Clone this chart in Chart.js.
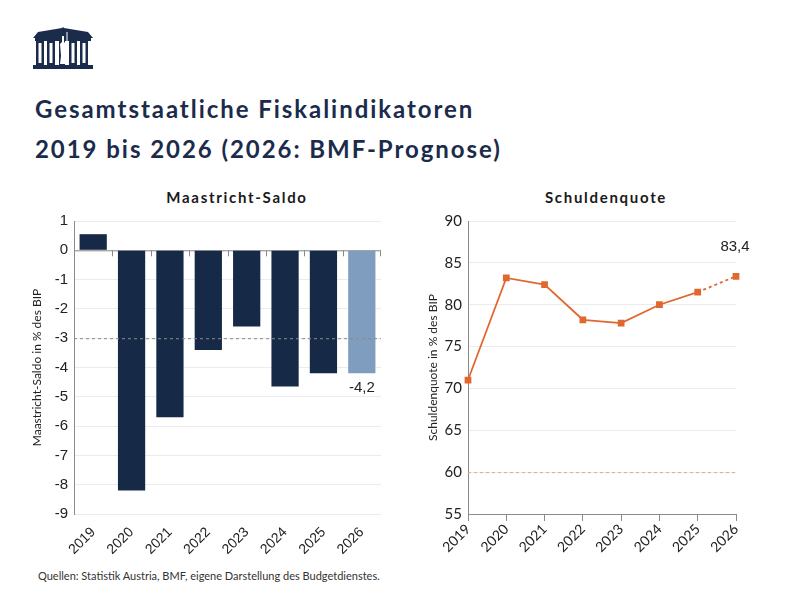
<!DOCTYPE html>
<html>
<head>
<meta charset="utf-8">
<script src="https://cdn.jsdelivr.net/npm/chart.js@4"></script>
<style>
  body { margin: 0; width: 800px; height: 600px; background: #fff; position: relative; overflow: hidden; font-family: Lato, sans-serif; }
  .logo { position: absolute; left: 33px; top: 27px; }
  .title { position: absolute; left: 35px; color: #1b2b4b; font: bold 24px Lato, sans-serif; letter-spacing: 1.95px; white-space: nowrap; }
  .sub { position: absolute; top: 188px; color: #1a1a1a; font: bold 15px Lato, sans-serif; letter-spacing: 1.7px; transform: translateX(-50%); white-space: nowrap; }
  .foot { position: absolute; left: 38px; top: 569px; font: 11px Lato, sans-serif; color: #333; }
  canvas { position: absolute; top: 205px; }
</style>
</head>
<body>
<svg class="logo" width="60" height="42" viewBox="0 0 60 42">
  <polygon points="0,11 5,5 29,1 30,0 31,1 55,5 60,11" fill="#1b2b4b"/>
  <rect x="2" y="11" width="56" height="3" fill="#1b2b4b"/>
  <rect x="3" y="14" width="8" height="24" fill="#1b2b4b"/>
  <rect x="14" y="14" width="8" height="24" fill="#1b2b4b"/>
  <rect x="36" y="14" width="8" height="24" fill="#1b2b4b"/>
  <rect x="47" y="14" width="8" height="24" fill="#1b2b4b"/>
  <rect x="26" y="14" width="6" height="24" fill="#1b2b4b"/>
  <rect x="5.5" y="16" width="3" height="20" fill="#fff"/>
  <rect x="16.5" y="16" width="3" height="20" fill="#fff"/>
  <rect x="38.5" y="16" width="3" height="20" fill="#fff"/>
  <rect x="49.5" y="16" width="3" height="20" fill="#fff"/>
  <path d="M29,9 L31,9 L31,15 L33,17 L32,29 L33,37 L27,37 L28,29 L27,17 L29,15 Z" fill="#fff"/>
  <rect x="33.5" y="5" width="1" height="14" fill="#fff"/>
  <rect x="0" y="38" width="60" height="4" fill="#1b2b4b"/>
</svg>
<div class="title" style="top:94px">Gesamtstaatliche Fiskalindikatoren</div>
<div class="title" style="top:134px">2019 bis 2026 (2026: BMF-Prognose)</div>
<div class="sub" style="left:237px">Maastricht-Saldo</div>
<div class="sub" style="left:606px">Schuldenquote</div>
<canvas id="saldo" width="400" height="355" style="left:0"></canvas>
<canvas id="quote" width="400" height="355" style="left:400px"></canvas>
<div class="foot">Quellen: Statistik Austria, BMF, eigene Darstellung des Budgetdienstes.</div>
<script>
const years = ['2019', '2020', '2021', '2022', '2023', '2024', '2025', '2026'];
const saldo = [0.55, -8.2, -5.7, -3.4, -2.6, -4.65, -4.2, -4.2];
const quote = [71.0, 83.2, 82.4, 78.2, 77.8, 80.0, 81.5, 83.4];
const saldoLabel = '-4,2';
const quoteLabel = '83,4';
const maastrichtLimit = -3;
const debtLimit = 60;

const navy = '#162a47';
const lightBlue = '#7f9dbe';
const orange = '#e0682f';
const gridColor = '#ebebeb';
const axisColor = '#8a8a8a';

// Nulllinie mit Teilstrichen zwischen den Kategorien
const zeroLine = {
    id: 'zeroLine',
    beforeDatasetsDraw(chart) {
        const { ctx, chartArea, scales } = chart;
        const y = scales.y.getPixelForValue(0);
        const x = scales.x;
        ctx.save();
        ctx.strokeStyle = axisColor;
        ctx.lineWidth = 1;
        ctx.beginPath();
        ctx.moveTo(chartArea.left, y + 0.5);
        ctx.lineTo(chartArea.right, y + 0.5);
        for (let i = 1; i <= years.length; i++) {
            const px = Math.round((x.getPixelForValue(i - 1) + x.getPixelForValue(i)) / 2) + 0.5;
            const bx = i === years.length ? chartArea.right - 0.5 : px;
            ctx.moveTo(bx, y);
            ctx.lineTo(bx, y + 6);
        }
        ctx.stroke();
        ctx.restore();
    }
};

// Maastricht-Grenze und Beschriftung unter dem letzten Balken
const saldoExtras = {
    id: 'saldoExtras',
    afterDatasetsDraw(chart) {
        const { ctx, chartArea, scales } = chart;
        const y = scales.y.getPixelForValue(maastrichtLimit);
        ctx.save();
        ctx.strokeStyle = axisColor;
        ctx.setLineDash([3, 3]);
        ctx.beginPath();
        ctx.moveTo(chartArea.left, y + 0.5);
        ctx.lineTo(chartArea.right, y + 0.5);
        ctx.stroke();
        ctx.setLineDash([]);
        const el = chart.getDatasetMeta(0).data[years.length - 1];
        ctx.fillStyle = '#222';
        ctx.font = '15px "Liberation Sans", Arial, sans-serif';
        ctx.textAlign = 'center';
        ctx.textBaseline = 'middle';
        ctx.fillText(saldoLabel, el.x, el.y + 14);
        ctx.restore();
    }
};

new Chart(document.getElementById('saldo'), {
    type: 'bar',
    data: {
        labels: years,
        datasets: [{
            data: saldo,
            backgroundColor: years.map((y, i) => i === years.length - 1 ? lightBlue : navy),
            categoryPercentage: 1,
            barPercentage: 0.71
        }]
    },
    options: {
        responsive: false,
        animation: false,
        layout: { padding: { top: 16, right: 19, left: 30, bottom: 0 } },
        plugins: { legend: { display: false }, tooltip: { enabled: false } },
        scales: {
            x: {
                grid: { display: false },
                border: { display: false },
                ticks: {
                    minRotation: 45, maxRotation: 45, padding: 2,
                    color: '#222', font: { family: '"Liberation Sans", Arial, sans-serif', size: 14 }
                },
                afterFit: s => { s.height = 46; }
            },
            y: {
                min: -9, max: 1,
                ticks: {
                    stepSize: 1, padding: 6, color: '#222',
                    font: { family: '"Liberation Sans", Arial, sans-serif', size: 15 }
                },
                grid: { color: gridColor, drawTicks: false },
                border: { color: axisColor },
                title: {
                    display: true, text: 'Maastricht-Saldo in % des BIP', color: '#222',
                    font: { family: 'Lato', size: 12 }, padding: 0
                },
                afterFit: s => { s.width = 44; }
            }
        }
    },
    plugins: [zeroLine, saldoExtras]
});

new Chart(document.getElementById('quote'), {
    type: 'line',
    data: {
        labels: years,
        datasets: [{
            data: quote,
            borderColor: orange,
            backgroundColor: orange,
            borderWidth: 1.8,
            pointStyle: 'rect',
            pointRadius: 3.5,
            tension: 0,
            segment: {
                borderDash: ctx => ctx.p1DataIndex === years.length - 1 ? [3, 3] : undefined
            }
        }]
    },
    options: {
        responsive: false,
        animation: false,
        layout: { padding: { top: 16, right: 64, left: 26, bottom: 0 } },
        plugins: { legend: { display: false }, tooltip: { enabled: false } },
        scales: {
            x: {
                offset: false,
                grid: { drawOnChartArea: false, color: axisColor, tickLength: 7 },
                border: { color: axisColor },
                ticks: {
                    minRotation: 45, maxRotation: 45, padding: 0,
                    color: '#222', font: { family: 'Lato', size: 14 }
                },
                afterFit: s => { s.height = 46; }
            },
            y: {
                min: 55, max: 90,
                ticks: {
                    stepSize: 5, padding: 6, color: '#222',
                    font: { family: 'Lato', size: 15 }
                },
                grid: { color: gridColor, drawTicks: false },
                border: { color: axisColor },
                title: {
                    display: true, text: 'Schuldenquote in % des BIP', color: '#222',
                    font: { family: 'Lato', size: 12 }, padding: 0
                },
                afterFit: s => { s.width = 42; }
            }
        }
    },
    plugins: [{
        id: 'debtLimit',
        afterDatasetsDraw(chart) {
            const { ctx, chartArea, scales } = chart;
            const y = scales.y.getPixelForValue(debtLimit);
            ctx.save();
            ctx.strokeStyle = '#f0a27c';
            ctx.setLineDash([3, 3]);
            ctx.beginPath();
            ctx.moveTo(chartArea.left, y + 0.5);
            ctx.lineTo(chartArea.right, y + 0.5);
            ctx.stroke();
            ctx.setLineDash([]);
            const el = chart.getDatasetMeta(0).data[years.length - 1];
            ctx.fillStyle = '#222';
            ctx.font = '15px "Liberation Sans", Arial, sans-serif';
            ctx.textAlign = 'center';
            ctx.textBaseline = 'middle';
            ctx.fillText(quoteLabel, el.x - 1, el.y - 29);
            ctx.restore();
        }
    }]
});
</script>
</body>
</html>
